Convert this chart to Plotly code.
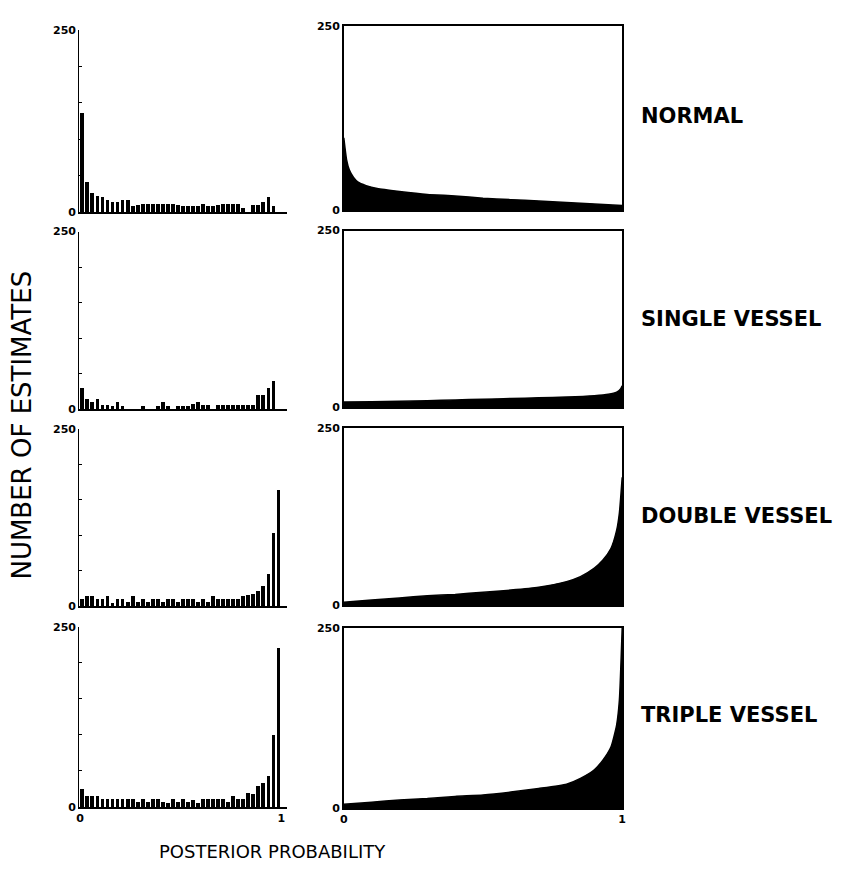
import plotly.graph_objects as go

# ---------------- data ----------------
bin_centers = [round(0.0125 + 0.025 * i, 4) for i in range(40)]

normal_hist = [136, 42, 27, 22, 21, 17, 14, 14, 17, 17, 8, 10, 12, 12, 12, 12, 12, 12, 12, 10,
               8, 8, 8, 8, 12, 8, 8, 10, 11, 12, 12, 12, 6, 0, 10, 10, 14, 21, 8, 0]
single_hist = [30, 15, 10, 15, 6, 6, 5, 10, 5, 0, 0, 0, 5, 0, 0, 5, 10, 5, 0, 5,
               5, 5, 8, 10, 6, 6, 0, 6, 6, 6, 6, 6, 6, 6, 6, 20, 20, 30, 40, 0]
double_hist = [10, 14, 14, 10, 10, 15, 5, 10, 10, 6, 15, 6, 10, 6, 10, 10, 6, 10, 10, 6,
               10, 10, 10, 6, 10, 6, 15, 10, 10, 10, 10, 10, 15, 16, 17, 21, 28, 46, 103, 164]
triple_hist = [25, 15, 15, 15, 12, 12, 12, 12, 12, 12, 12, 8, 12, 8, 12, 12, 8, 6, 12, 8,
               12, 8, 10, 6, 12, 12, 12, 12, 12, 8, 15, 12, 12, 20, 18, 30, 34, 44, 100, 221]

normal_curve_x = [0, 0.004, 0.01, 0.02, 0.035, 0.05, 0.08, 0.12, 0.2, 0.3, 0.4, 0.5, 0.6, 0.7, 0.8, 0.9, 1.0]
normal_curve_y = [98, 85, 68, 54, 44, 38, 33, 29, 25, 21, 19, 16, 14, 12, 10, 8, 6]
single_curve_x = [0, 0.1, 0.2, 0.3, 0.4, 0.5, 0.6, 0.7, 0.8, 0.9, 0.95, 0.98, 0.995, 1.0]
single_curve_y = [7, 7.5, 8, 9, 10, 11, 12, 13, 14, 16, 18, 21, 26, 30]
double_curve_x = [0, 0.1, 0.2, 0.3, 0.4, 0.5, 0.6, 0.7, 0.8, 0.85, 0.9, 0.93, 0.96, 0.98, 0.99, 1.0]
double_curve_y = [4, 7, 10, 13, 15, 18, 21, 25, 33, 40, 52, 63, 80, 105, 130, 180]
triple_curve_x = [0, 0.1, 0.2, 0.3, 0.4, 0.5, 0.6, 0.7, 0.8, 0.85, 0.9, 0.93, 0.96, 0.98, 0.99, 1.0]
triple_curve_y = [5, 8, 11, 13, 16, 18, 22, 27, 33, 41, 53, 66, 85, 115, 150, 250]

row_labels = ["NORMAL", "SINGLE VESSEL", "DOUBLE VESSEL", "TRIPLE VESSEL"]
hists = [normal_hist, single_hist, double_hist, triple_hist]
curves = [(normal_curve_x, normal_curve_y), (single_curve_x, single_curve_y),
          (double_curve_x, double_curve_y), (triple_curve_x, triple_curve_y)]

# ---------------- layout geometry (pixels) ----------------
W, H = 860, 880
left_rows = [(24, 209), (229, 409), (429, 609), (630, 813)]
right_rows = [(20, 207), (228, 407), (428, 608), (631, 814)]
label_y = [112, 318, 518, 720]
left_x = (76, 286)
right_x = (343, 624)

def fx(p):
    return p / W

def fy(p):
    return 1 - p / H

fig = go.Figure()
tick_font = dict(family="DejaVu Sans", size=11, color="black", weight="bold")
layout = dict(width=W, height=H, margin=dict(l=0, r=0, t=0, b=0),
              paper_bgcolor="white", plot_bgcolor="white", showlegend=False,
              bargap=0)

for r in range(4):
    la = 2 * r + 1
    ra = 2 * r + 2
    lx = "x" if la == 1 else f"x{la}"
    ly = "y" if la == 1 else f"y{la}"
    fig.add_trace(go.Bar(x=bin_centers, y=hists[r], width=0.019,
                         marker=dict(color="black", line=dict(width=0)),
                         xaxis=lx, yaxis=ly))
    cx, cy = curves[r]
    fig.add_trace(go.Scatter(x=cx, y=cy, mode="lines", fill="tozeroy",
                             fillcolor="black", line=dict(color="black", width=1.5, shape="spline", smoothing=0.5),
                             xaxis=f"x{ra}", yaxis=f"y{ra}"))

    last = (r == 3)
    top, bot = left_rows[r]
    layout["xaxis" if la == 1 else f"xaxis{la}"] = dict(
        domain=[fx(left_x[0]), fx(left_x[1])], range=[-0.004, 1.03],
        anchor=ly, showline=True, linecolor="black", linewidth=1.5,
        showgrid=False, zeroline=False, ticks="",
        tickvals=[0, 1] if last else [], ticktext=["0", "1"] if last else [],
        tickfont=tick_font, fixedrange=True)
    layout["yaxis" if la == 1 else f"yaxis{la}"] = dict(
        domain=[fy(bot), fy(top)], range=[0, 250], anchor=lx,
        showline=True, linecolor="black", linewidth=1.2,
        showgrid=False, zeroline=False, ticks="inside", ticklen=3, tickcolor="black",
        tickvals=[0, 50, 100, 150, 200, 250], ticktext=["0", "", "", "", "", "250"],
        tickfont=tick_font, fixedrange=True)

    top, bot = right_rows[r]
    layout[f"xaxis{ra}"] = dict(
        domain=[fx(right_x[0]), fx(right_x[1])], range=[0, 1],
        anchor=f"y{ra}", showline=True, mirror=True, linecolor="black", linewidth=1.5,
        showgrid=False, zeroline=False, ticks="",
        tickvals=[0, 1] if last else [], ticktext=["0", "1"] if last else [],
        tickfont=tick_font, fixedrange=True)
    layout[f"yaxis{ra}"] = dict(
        domain=[fy(bot), fy(top)], range=[0, 250], anchor=f"x{ra}",
        showline=True, mirror=True, linecolor="black", linewidth=1.5,
        showgrid=False, zeroline=False, ticks="",
        tickvals=[0, 250], ticktext=["0", "250"],
        tickfont=tick_font, fixedrange=True)

annotations = []
for r in range(4):
    annotations.append(dict(text=row_labels[r], x=fx(641), y=fy(label_y[r]),
                            xref="paper", yref="paper", xanchor="left", yanchor="middle",
                            showarrow=False,
                            font=dict(family="DejaVu Sans", size=21, color="black", weight="bold")))
annotations.append(dict(text="NUMBER OF ESTIMATES", x=fx(18), y=fy(425), xref="paper", yref="paper",
                        textangle=-90, showarrow=False, xanchor="center", yanchor="middle",
                        font=dict(family="DejaVu Sans", size=26, color="black")))
annotations.append(dict(text="POSTERIOR PROBABILITY", x=fx(271), y=fy(858), xref="paper", yref="paper",
                        showarrow=False, xanchor="center", yanchor="middle",
                        font=dict(family="DejaVu Sans", size=18, color="black")))
layout["annotations"] = annotations

fig.update_layout(**layout)
fig.write_html("out.html")
